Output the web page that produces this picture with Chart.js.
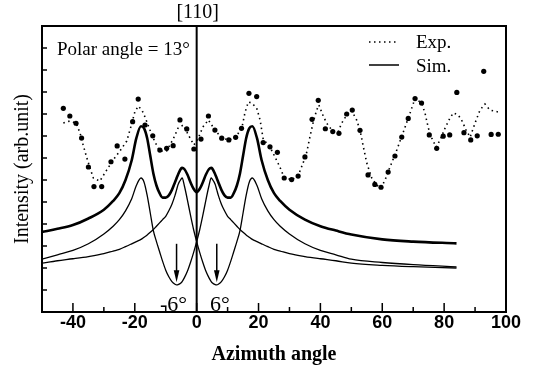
<!DOCTYPE html>
<html>
<head>
<meta charset="utf-8">
<script src="https://cdn.jsdelivr.net/npm/chart.js@4.4.1/dist/chart.umd.min.js"></script>
<style>
  html, body { margin: 0; padding: 0; background: #fff; }
</style>
</head>
<body>
<canvas id="chart" width="535" height="373"></canvas>
<script>
// Axis ticks
const xTicks = [-40, -20, 0, 20, 40, 60, 80, 100];
const xMinorTicks = [-30, -10, 10, 30, 50, 70, 90];
const yTicks = [0, 1, 2, 3, 4, 5, 6, 7, 8, 9, 10, 11, 12, 13];

// Experimental points (azimuth angle / intensity)
const expDotX = [-43.1, -41.0, -39.0, -37.2, -35.0, -33.2, -30.7, -27.7, -25.7, -23.2,
  -20.7, -18.9, -16.7, -14.2, -11.9, -9.7, -7.6, -5.4, -3.2, -0.9,
  1.4, 3.8, 5.9, 8.1, 10.4, 12.6, 14.5, 16.9, 19.4, 21.5,
  23.7, 26.1, 28.3, 30.7, 32.8, 35.0, 37.3, 39.3, 41.6, 44.0,
  46.0, 48.5, 50.3, 52.8, 55.4, 57.6, 59.6, 61.9, 64.1, 66.3,
  68.4, 70.6, 72.7, 75.2, 77.6, 79.7, 81.8, 84.1, 86.4, 88.6,
  90.7, 92.8, 95.2, 97.5];
const expDotY = [9.26, 8.91, 8.58, 7.91, 6.59, 5.70, 5.70, 6.83, 7.55, 6.95,
  8.65, 9.68, 8.50, 8.01, 7.36, 7.44, 7.56, 8.73, 8.32, 7.41,
  7.86, 8.91, 8.27, 7.90, 7.82, 7.94, 8.35, 9.94, 9.79, 7.70,
  7.51, 7.26, 6.09, 6.02, 6.18, 7.05, 8.76, 9.62, 8.33, 8.20,
  8.12, 9.00, 9.18, 8.26, 6.23, 5.80, 5.67, 6.36, 7.09, 7.95,
  8.80, 9.70, 9.50, 8.05, 7.44, 7.99, 8.05, 9.98, 8.15, 7.82,
  8.01, 10.94, 8.07, 8.08];

// Experimental dotted curve
const expLineX = [-43.1, -41.0, -39.0, -37.7, -36.7, -35.6, -34.5, -33.4, -31.3, -29.1,
  -27.0, -24.8, -22.6, -21.0, -20.0, -18.9, -17.7, -16.7, -15.1, -13.5,
  -11.9, -9.7, -7.6, -6.0, -4.3, -2.7, -0.9, 0.4, 2.0, 3.8,
  5.9, 8.1, 10.4, 12.6, 14.6, 15.6, 16.7, 17.8, 19.4, 20.5,
  21.5, 23.7, 25.3, 26.9, 28.2, 30.7, 32.9, 34.4, 35.6, 36.6,
  37.7, 38.8, 39.5, 40.8, 42.0, 43.7, 45.7, 46.9, 48.5, 50.1,
  51.7, 52.8, 53.9, 55.0, 56.6, 58.2, 59.6, 60.9, 62.5, 64.7,
  66.8, 69.0, 70.6, 72.7, 73.8, 74.9, 76.0, 77.4, 78.7, 80.3,
  81.9, 83.0, 84.6, 85.8, 87.1, 88.4, 90.0, 91.6, 93.2, 94.8, 97.5];
const expLineY = [8.59, 8.68, 8.59, 8.14, 7.59, 7.05, 6.55, 6.09, 5.95, 6.45,
  6.91, 7.32, 7.77, 8.55, 9.09, 9.36, 9.18, 8.86, 8.27, 7.73,
  7.32, 7.32, 7.86, 8.36, 8.50, 8.05, 7.59, 7.86, 8.41, 8.73,
  8.27, 7.91, 7.82, 7.95, 8.36, 9.05, 9.55, 9.50, 9.27, 8.73,
  7.86, 7.50, 7.05, 6.59, 6.14, 6.00, 6.23, 6.77, 7.27, 7.95,
  8.64, 9.18, 9.41, 8.95, 8.59, 8.27, 8.18, 8.59, 8.95, 9.15,
  8.73, 8.27, 7.50, 6.77, 6.09, 5.77, 5.64, 6.00, 6.59, 7.36,
  8.18, 9.05, 9.71, 9.50, 9.05, 8.36, 7.91, 7.50, 7.82, 8.36,
  8.82, 9.05, 8.95, 8.68, 8.27, 7.95, 8.59, 9.18, 9.45, 9.18, 9.09];

// Simulation curves
const simX = [-50, -45, -40, -35, -30, -27, -25, -23, -21, -19.5,
  -18, -17, -16, -15, -14, -13, -12, -11, -10, -9,
  -8, -7, -6.5, -6, -5, -4.7, -4, -3, -2, -1,
  0, 1, 2, 3, 4, 4.7, 5, 6, 6.5, 7,
  8, 9, 10, 11, 12, 13, 14, 15, 16, 17,
  18, 19.5, 21, 23, 25, 27, 30, 35, 40, 45,
  50, 60, 70, 84];
const simSum = [3.64, 3.78, 3.95, 4.25, 4.65, 5.05, 5.4, 6.0, 6.9, 7.9,
  8.44, 8.35, 7.9, 7.1, 6.3, 5.75, 5.4, 5.2, 5.2, 5.3,
  5.55, 5.9, 6.08, 6.25, 6.53, 6.55, 6.5, 6.25, 5.9, 5.6,
  5.45, 5.6, 5.9, 6.25, 6.5, 6.55, 6.53, 6.25, 6.08, 5.9,
  5.55, 5.3, 5.2, 5.2, 5.4, 5.75, 6.3, 7.1, 7.9, 8.35,
  8.44, 7.9, 6.9, 6.0, 5.4, 5.05, 4.65, 4.2, 3.9, 3.7,
  3.52, 3.3, 3.2, 3.12];
const simDomainA = [2.4, 2.6, 2.8, 3.1, 3.55, 3.9, 4.2, 4.6, 5.15, 5.75,
  6.09, 5.9, 5.3, 4.5, 3.7, 3.2, 2.75, 2.3, 1.9, 1.6,
  1.38, 1.26, 1.23, 1.24, 1.33, 1.38, 1.55, 1.85, 2.25, 2.7,
  3.2, 3.75, 4.4, 5.1, 5.75, 6.09, 6.05, 5.8, 5.55, 5.3,
  4.9, 4.6, 4.35, 4.2, 4.05, 3.9, 3.75, 3.62, 3.5, 3.4,
  3.3, 3.2, 3.1, 2.97, 2.85, 2.77, 2.65, 2.52, 2.42, 2.33,
  2.22, 2.12, 2.06, 2.0];
const simDomainB = [2.22, 2.33, 2.42, 2.52, 2.65, 2.77, 2.85, 2.97, 3.1, 3.2,
  3.3, 3.4, 3.5, 3.62, 3.75, 3.9, 4.05, 4.2, 4.35, 4.6,
  4.9, 5.3, 5.55, 5.8, 6.05, 6.09, 5.75, 5.1, 4.4, 3.75,
  3.2, 2.7, 2.25, 1.85, 1.55, 1.38, 1.33, 1.24, 1.23, 1.26,
  1.38, 1.6, 1.9, 2.3, 2.75, 3.2, 3.7, 4.5, 5.3, 5.9,
  6.09, 5.75, 5.15, 4.6, 4.2, 3.9, 3.55, 3.1, 2.8, 2.6,
  2.4, 2.25, 2.15, 2.05];

// [110] direction marker and the ±6° arrows
const dividerX = 0;
const arrowX = [-6.5, 6.5];
const arrowFrom = 3.1;
const arrowTo = 1.35;

const SERIF = '"Liberation Serif", "Times New Roman", serif';

const toPoints = (xs, ys) => xs.map((x, i) => ({ x, y: ys[i] }));

const overlay = {
  id: 'overlay',
  afterDatasetsDraw(chart) {
    const { ctx, chartArea: a, scales: { x, y } } = chart;
    ctx.save();
    ctx.strokeStyle = '#000';
    ctx.fillStyle = '#000';

    // frame
    ctx.lineWidth = 2;
    ctx.strokeRect(a.left, a.top, a.right - a.left, a.bottom - a.top);

    // inward tick marks
    ctx.lineWidth = 1.5;
    ctx.beginPath();
    yTicks.forEach(v => {
      const py = y.getPixelForValue(v);
      ctx.moveTo(a.left, py);
      ctx.lineTo(a.left + 5, py);
    });
    xTicks.forEach(v => {
      const px = x.getPixelForValue(v);
      ctx.moveTo(px, a.bottom);
      ctx.lineTo(px, a.bottom - 9);
    });
    xMinorTicks.forEach(v => {
      const px = x.getPixelForValue(v);
      ctx.moveTo(px, a.bottom);
      ctx.lineTo(px, a.bottom - 5);
    });
    ctx.stroke();

    // arrows
    arrowX.forEach(v => {
      const px = x.getPixelForValue(v);
      const y0 = y.getPixelForValue(arrowFrom);
      const y1 = y.getPixelForValue(arrowTo);
      ctx.lineWidth = 1.5;
      ctx.beginPath();
      ctx.moveTo(px, y0);
      ctx.lineTo(px, y1 - 10);
      ctx.stroke();
      ctx.beginPath();
      ctx.moveTo(px - 2.8, y1 - 12);
      ctx.lineTo(px + 2.8, y1 - 12);
      ctx.lineTo(px, y1);
      ctx.closePath();
      ctx.fill();
    });

    // texts
    ctx.textBaseline = 'alphabetic';
    ctx.textAlign = 'center';
    ctx.font = '20px ' + SERIF;
    ctx.fillText('[110]', x.getPixelForValue(dividerX) + 1, 18);

    ctx.textAlign = 'left';
    ctx.font = '19px ' + SERIF;
    ctx.fillText('Polar angle = 13°', a.left + 15, 55);

    // legend
    ctx.fillText('Exp.', 416, 48);
    ctx.fillText('Sim.', 416, 72);
    ctx.lineWidth = 1.5;
    ctx.setLineDash([1.5, 3.5]);
    ctx.beginPath();
    ctx.moveTo(369, 42);
    ctx.lineTo(399, 42);
    ctx.stroke();
    ctx.setLineDash([]);
    ctx.beginPath();
    ctx.moveTo(369, 65);
    ctx.lineTo(399, 65);
    ctx.stroke();

    ctx.font = '22px ' + SERIF;
    ctx.fillText('-6°', 160, 311);
    ctx.fillText('6°', 210, 311);

    ctx.restore();
  }
};

new Chart(document.getElementById('chart'), {
  type: 'scatter',
  data: {
    datasets: [
      {
        label: 'Sim.',
        data: toPoints(simX, simSum),
        showLine: true,
        borderColor: '#000',
        borderWidth: 2.6,
        pointRadius: 0,
        cubicInterpolationMode: 'monotone'
      },
      {
        label: 'Sim. domain A',
        data: toPoints(simX, simDomainA),
        showLine: true,
        borderColor: '#000',
        borderWidth: 1.3,
        pointRadius: 0,
        cubicInterpolationMode: 'monotone'
      },
      {
        label: 'Sim. domain B',
        data: toPoints(simX, simDomainB),
        showLine: true,
        borderColor: '#000',
        borderWidth: 1.3,
        pointRadius: 0,
        cubicInterpolationMode: 'monotone'
      },
      {
        label: 'Exp.',
        data: toPoints(expLineX, expLineY),
        showLine: true,
        borderColor: '#000',
        borderWidth: 1.6,
        borderDash: [1.5, 3.5],
        pointRadius: 0
      },
      {
        label: 'Exp. points',
        data: toPoints(expDotX, expDotY),
        showLine: false,
        pointRadius: 2.6,
        pointBackgroundColor: '#000',
        pointBorderColor: '#000',
        pointBorderWidth: 0
      },
      {
        label: '[110]',
        data: [{ x: dividerX, y: yTicks[0] }, { x: dividerX, y: yTicks[yTicks.length - 1] }],
        showLine: true,
        borderColor: '#000',
        borderWidth: 2,
        pointRadius: 0
      }
    ]
  },
  options: {
    responsive: false,
    animation: false,
    devicePixelRatio: 1,
    layout: { padding: { top: 26, right: 29, left: 0, bottom: 0 } },
    plugins: {
      legend: { display: false },
      tooltip: { enabled: false }
    },
    scales: {
      x: {
        type: 'linear',
        min: -50,
        max: 100,
        afterBuildTicks: s => { s.ticks = xTicks.map(v => ({ value: v })); },
        afterFit: s => { s.height = 61; },
        grid: { display: false, drawTicks: false },
        border: { display: false },
        ticks: {
          color: '#000',
          padding: 0,
          maxRotation: 0,
          font: { family: '"Liberation Sans", Arial, sans-serif', size: 18, weight: 'bold' }
        },
        title: {
          display: true,
          text: 'Azimuth angle',
          color: '#000',
          font: { family: SERIF, size: 20, weight: 'bold' },
          padding: { top: 0, bottom: 6 }
        }
      },
      y: {
        type: 'linear',
        min: 0,
        max: 13,
        afterBuildTicks: s => { s.ticks = yTicks.map(v => ({ value: v })); },
        afterFit: s => { s.width = 42; },
        grid: { display: false, drawTicks: false },
        border: { display: false },
        ticks: { display: false },
        title: {
          display: true,
          text: 'Intensity (arb.unit)',
          color: '#000',
          font: { family: SERIF, size: 20 },
          padding: { top: 11, bottom: 0 }
        }
      }
    }
  },
  plugins: [overlay]
});
</script>
</body>
</html>
